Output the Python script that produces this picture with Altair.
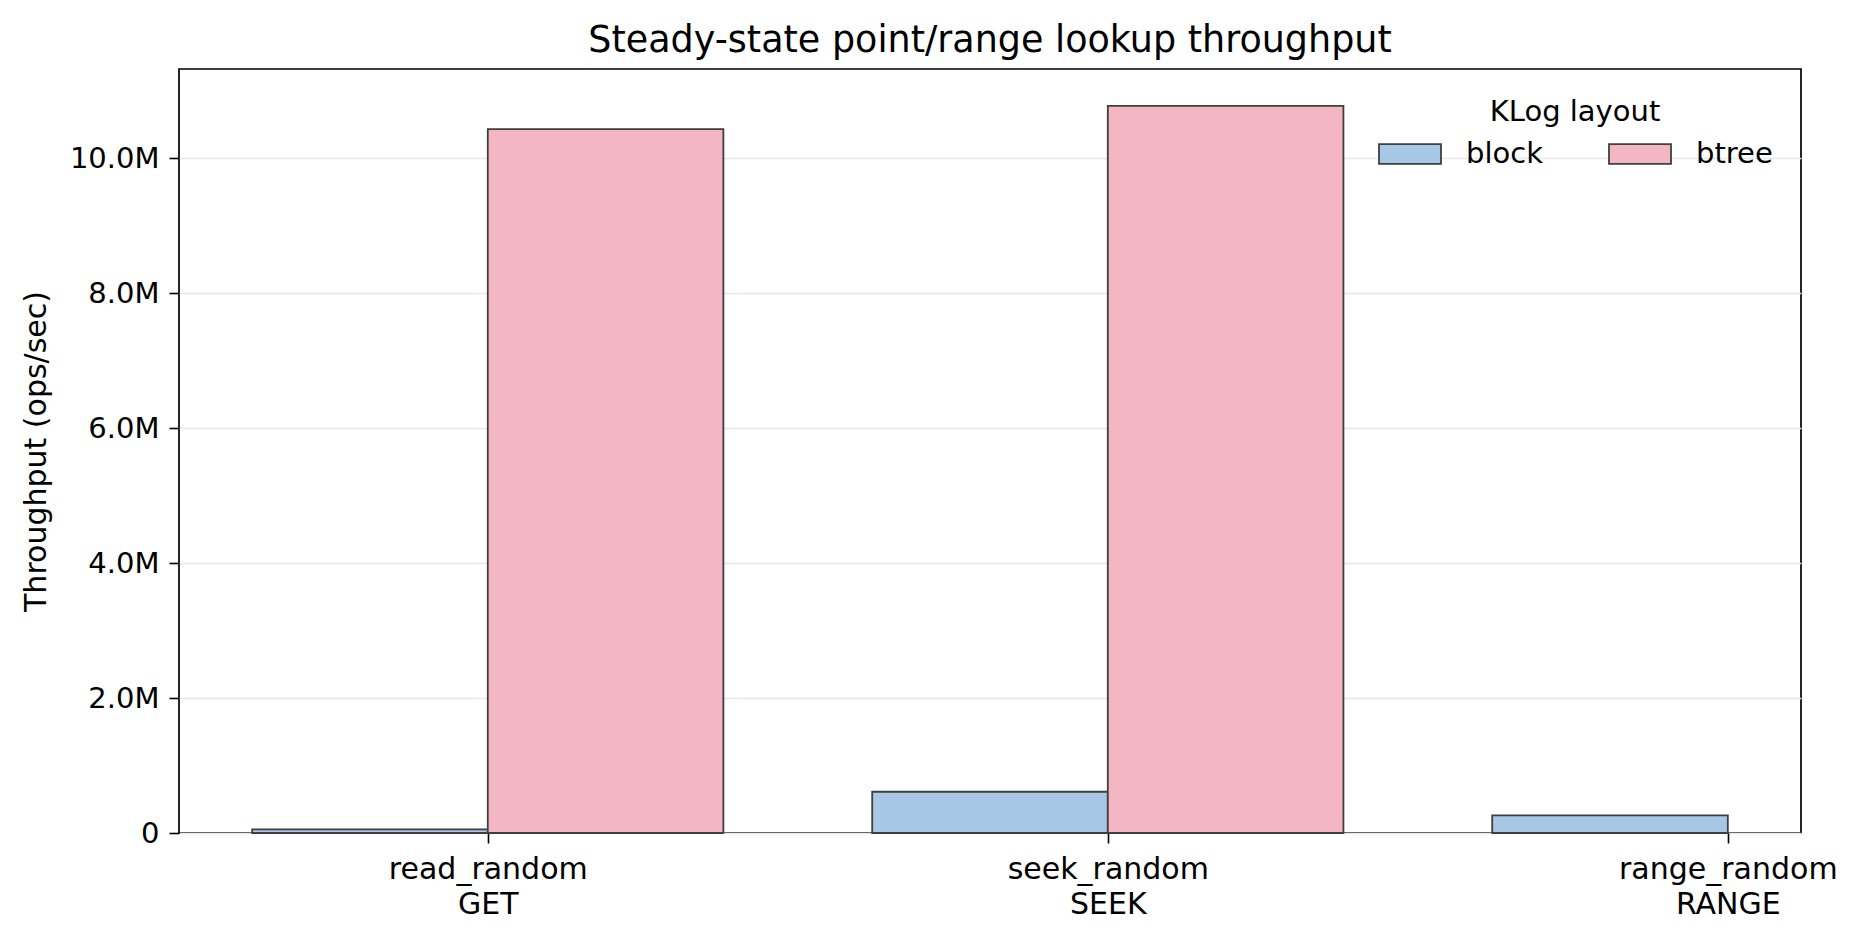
import altair as alt
import pandas as pd

# ---- data ----
benchmarks = ["read_random", "seek_random", "range_random"]
operations = ["GET", "SEEK", "RANGE"]
layouts = ["block", "btree"]
block_ops = [0.053e6, 0.611e6, 0.26e6]
btree_ops = [10.43e6, 10.775e6, None]   # no btree bar for range_random
y_ticks = [0, 2e6, 4e6, 6e6, 8e6, 10e6]

BAR_W = 0.38
colors = ["#a7c7e6", "#f4b6c3"]

rows = []
for i, b in enumerate(benchmarks):
    for j, (lay, vals) in enumerate(zip(layouts, [block_ops, btree_ops])):
        v = vals[i]
        if v is None:
            continue
        x0 = i - BAR_W if j == 0 else i
        rows.append({"benchmark": b, "layout": lay, "ops": v, "x0": x0, "x1": x0 + BAR_W})
df = pd.DataFrame(rows)

label_expr = " : ".join(
    f"datum.value == {i} ? ['{b}', '{o}']" for i, (b, o) in enumerate(zip(benchmarks, operations))
) + " : ''"

FONT = "DejaVu Sans"
W, H = 1622, 764

bars = alt.Chart(df).mark_bar(stroke="#3f3f3f", strokeWidth=1.8).encode(
    x=alt.X("x0:Q",
            scale=alt.Scale(domain=[-0.498, 2.118], nice=False, zero=False),
            axis=alt.Axis(values=[0, 1, 2], labelExpr=label_expr, grid=False, title=None,
                          domain=False, tickSize=10, tickWidth=1.6, tickColor="black",
                          labelFontSize=30, labelLineHeight=35, labelPadding=11,
                          labelLimit=0, labelColor="black", labelFont=FONT)),
    x2="x1:Q",
    y=alt.Y("ops:Q",
            scale=alt.Scale(domain=[0, 11.32e6], nice=False),
            axis=alt.Axis(values=y_ticks,
                          labelExpr="datum.value == 0 ? '0' : format(datum.value / 1e6, '.1f') + 'M'",
                          grid=True, gridColor="#e8e8e8", gridWidth=1.5,
                          domain=False, tickSize=10, tickWidth=1.6, tickColor="black",
                          labelFontSize=29, labelPadding=10, labelColor="black", labelFont=FONT,
                          title="Throughput (ops/sec)", titleFontSize=30, titleFontWeight="normal",
                          titleFont=FONT, titleColor="black", titleAngle=270,
                          titleX=-143, titleY=H / 2, titleAlign="center", titleBaseline="middle")),
    y2=alt.Y2(datum=0),
    color=alt.Color("layout:N",
                    scale=alt.Scale(domain=layouts, range=colors),
                    legend=alt.Legend(title="KLog layout", orient="none",
                                      legendX=1199, legendY=29,
                                      direction="horizontal", columns=2,
                                      columnPadding=62, labelOffset=24,
                                      symbolType="M-1,-0.32H1V0.32H-1Z", symbolSize=3844,
                                      symbolStrokeColor="#3f3f3f", symbolStrokeWidth=1.8,
                                      labelFontSize=29, titleFontSize=29, titleFontWeight="normal",
                                      labelFont=FONT, titleFont=FONT, labelColor="black",
                                      titleColor="black", titleAnchor="middle", titlePadding=-5,
                                      padding=0)),
)

chart = bars.properties(
    width=W, height=H,
    background="white",
    title=alt.TitleParams("Steady-state point/range lookup throughput", fontSize=36.5,
                          font=FONT, fontWeight="normal", color="black",
                          anchor="middle", baseline="alphabetic", offset=-19),
    autosize=alt.AutoSizeParams(type="none"),
    padding={"left": 171, "top": 61, "right": 51, "bottom": 100},
).configure_view(stroke="black", strokeWidth=1.7)

chart.save("out.html", embed_options={"renderer": "svg", "actions": False})
